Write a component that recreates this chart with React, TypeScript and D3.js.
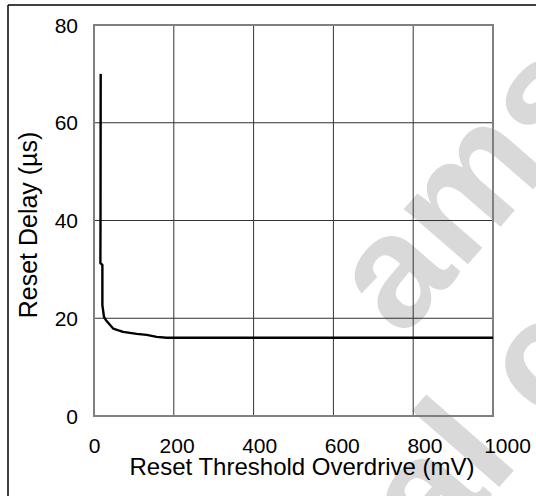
import { useEffect, useRef } from "react";
import * as d3 from "d3";

// Reset delay vs. reset threshold overdrive
const overdriveMv = [16.8, 16.3, 16, 21, 21, 25, 30, 48, 73, 107, 132, 157, 182, 1000];
const delayUs = [70, 38.7, 31.3, 30.9, 22.7, 20.3, 19.6, 17.9, 17.2, 16.8, 16.6, 16.2, 16.0, 16.0];

const xTicks = [0, 200, 400, 600, 800, 1000];
const yTicks = [0, 20, 40, 60, 80];

const W = 536;
const H = 496;
const FONT = "'Liberation Sans', Arial, sans-serif";

export default function App() {
  const ref = useRef<SVGSVGElement | null>(null);

  useEffect(() => {
    const svg = d3.select(ref.current);
    svg.selectAll("*").remove();

    const x = d3.scaleLinear().domain([0, 1000]).range([94, 493]);
    const y = d3.scaleLinear().domain([0, 80]).range([416, 25]);
    // the x labels drift a little right of their gridlines in the source
    const xLabel = d3.scaleLinear().domain([0, 1000]).range([94.5, 507.5]);

    // watermark
    const wm = svg
      .append("g")
      .attr("transform", "translate(402,340) rotate(-49)")
      .attr("fill", "#d9d9d9")
      .style("font-family", FONT)
      .style("font-weight", "bold")
      .style("font-size", "160px");
    wm.append("text").attr("x", 0).attr("y", 0).text("ams AG");
    wm.append("text").attr("x", -740).attr("y", 170).text("Technical content still valid");

    // page frame
    svg.append("line").attr("x1", 8).attr("x2", W).attr("y1", 5).attr("y2", 5)
      .attr("stroke", "#000").attr("stroke-width", 1.5);
    svg.append("line").attr("x1", 8).attr("x2", 8).attr("y1", 5).attr("y2", H)
      .attr("stroke", "#000").attr("stroke-width", 1.5);

    // grid
    const grid = svg.append("g").attr("stroke", "#333").attr("stroke-width", 1);
    grid.selectAll("line.v")
      .data(xTicks.slice(1, -1))
      .join("line")
      .attr("class", "v")
      .attr("x1", (d) => x(d)).attr("x2", (d) => x(d))
      .attr("y1", y(80)).attr("y2", y(0));
    grid.selectAll("line.h")
      .data(yTicks.slice(1, -1))
      .join("line")
      .attr("class", "h")
      .attr("x1", x(0)).attr("x2", x(1000))
      .attr("y1", (d) => y(d)).attr("y2", (d) => y(d));

    svg.append("rect")
      .attr("x", x(0)).attr("y", y(80))
      .attr("width", x(1000) - x(0)).attr("height", y(0) - y(80))
      .attr("fill", "none").attr("stroke", "#808080").attr("stroke-width", 2);

    // curve
    const pts = overdriveMv.map((v, i) => [v, delayUs[i]] as [number, number]);
    svg.append("path")
      .datum(pts)
      .attr("d", d3.line<[number, number]>().x((d) => x(d[0])).y((d) => y(d[1])))
      .attr("fill", "none").attr("stroke", "#000").attr("stroke-width", 2.4)
      .attr("stroke-linejoin", "round");

    // tick labels
    const labels = svg.append("g").style("font-family", FONT).style("font-size", "21px").attr("fill", "#000");
    labels.selectAll("text.x")
      .data(xTicks)
      .join("text")
      .attr("class", "x")
      .attr("x", (d) => xLabel(d)).attr("y", 453)
      .attr("text-anchor", "middle")
      .text((d) => d);
    labels.selectAll("text.y")
      .data(yTicks)
      .join("text")
      .attr("class", "y")
      .attr("x", 78).attr("y", (d) => y(d) + 7.5)
      .attr("text-anchor", "end")
      .text((d) => d);

    // axis titles
    svg.append("text")
      .attr("x", 302).attr("y", 475)
      .attr("text-anchor", "middle")
      .style("font-family", FONT).style("font-size", "24px")
      .text("Reset Threshold Overdrive (mV)");
    svg.append("text")
      .attr("transform", "translate(37,225) rotate(-90)")
      .attr("text-anchor", "middle")
      .style("font-family", FONT).style("font-size", "25px")
      .text("Reset Delay (µs)");
  }, []);

  return (
    <div style={{ position: "fixed", left: 0, top: 0 }}>
      <svg ref={ref} width={W} height={H} style={{ display: "block", background: "#fff" }} />
    </div>
  );
}
